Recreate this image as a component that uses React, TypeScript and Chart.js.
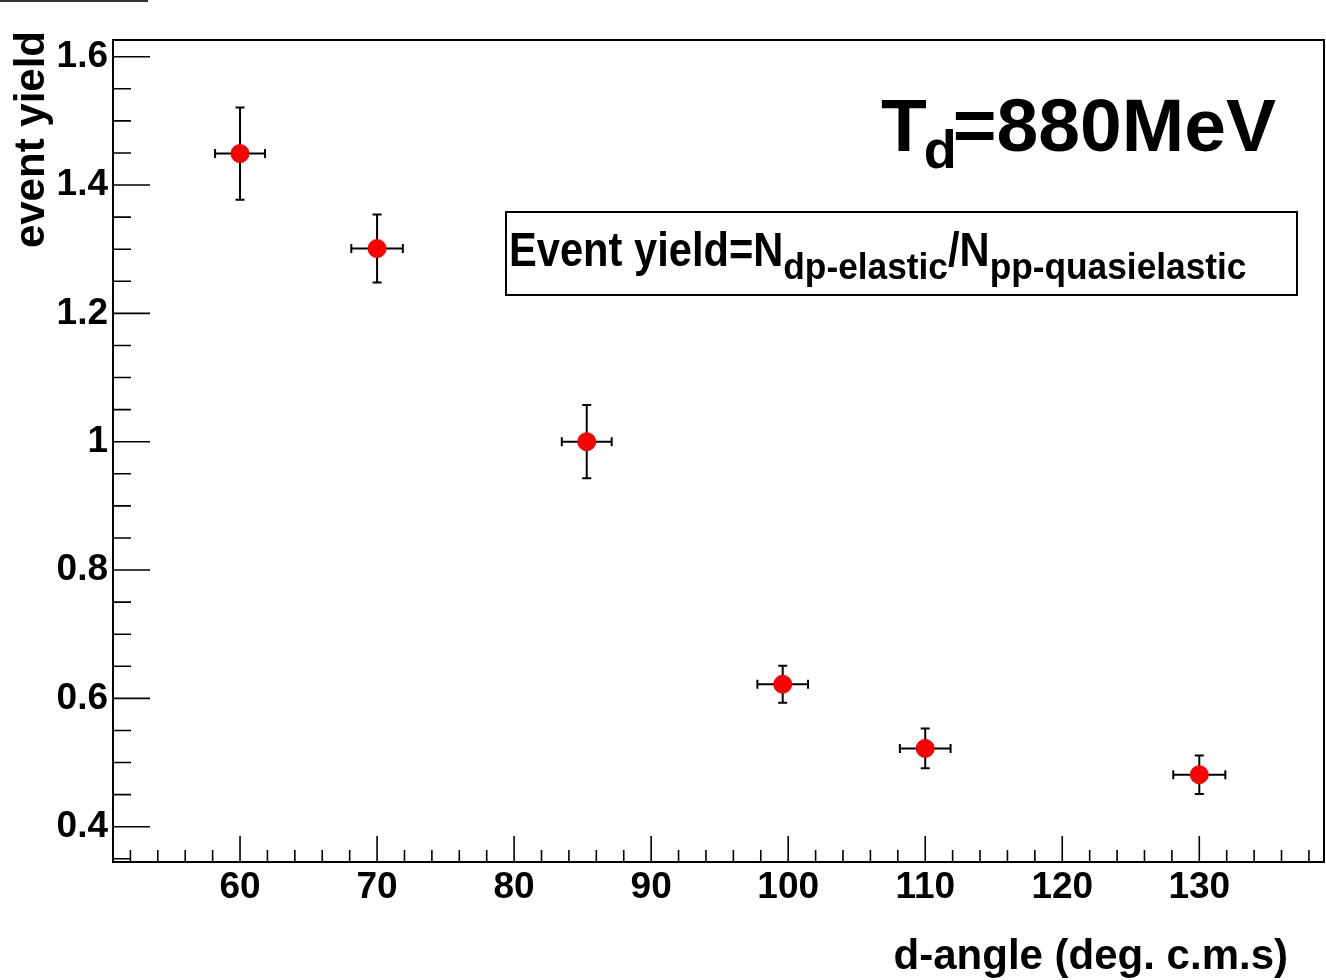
import React, { useEffect, useRef } from 'react';
import { Chart, registerables } from 'chart.js';

Chart.register(...registerables);

// ---- data ----
const angles = [60, 70, 85.3, 99.6, 110, 130];
const yields = [1.449, 1.301, 1.0, 0.622, 0.522, 0.481];
const yieldErrors = [0.072, 0.053, 0.057, 0.029, 0.031, 0.03];
const angleErrors = [1.82, 1.88, 1.82, 1.85, 1.85, 1.9];

const xTickValues = [52, 54, 56, 58, 60, 62, 64, 66, 68, 70, 72, 74, 76, 78, 80, 82, 84, 86, 88, 90, 92, 94, 96, 98, 100, 102, 104, 106, 108, 110, 112, 114, 116, 118, 120, 122, 124, 126, 128, 130, 132, 134, 136, 138];
const xMajorLabels = [60, 70, 80, 90, 100, 110, 120, 130];
const yTickValues = [0.35, 0.4, 0.45, 0.5, 0.55, 0.6, 0.65, 0.7, 0.75, 0.8, 0.85, 0.9, 0.95, 1.0, 1.05, 1.1, 1.15, 1.2, 1.25, 1.3, 1.35, 1.4, 1.45, 1.5, 1.55, 1.6];
const yMajorLabels = [0.4, 0.6, 0.8, 1, 1.2, 1.4, 1.6];

const X_MIN = 50.73;
const X_MAX = 139.1;
const Y_MIN = 0.345;
const Y_MAX = 1.626;

const FONT = "'Liberation Sans', Arial, Helvetica, sans-serif";

const findMajorY = (v: number) => yMajorLabels.find((m) => Math.abs(m - v) < 1e-6);

const rootPlugin = {
  id: 'rootStyle',
  beforeDatasetsDraw(chart: any) {
    const { ctx } = chart;
    const xs = chart.scales.x;
    const ys = chart.scales.y;
    ctx.save();
    ctx.strokeStyle = '#000';
    ctx.lineWidth = 2;
    const cap = 4.5;
    for (let i = 0; i < angles.length; i++) {
      const px = xs.getPixelForValue(angles[i]);
      const py = ys.getPixelForValue(yields[i]);
      const x0 = xs.getPixelForValue(angles[i] - angleErrors[i]);
      const x1 = xs.getPixelForValue(angles[i] + angleErrors[i]);
      const y0 = ys.getPixelForValue(yields[i] - yieldErrors[i]);
      const y1 = ys.getPixelForValue(yields[i] + yieldErrors[i]);
      ctx.beginPath();
      ctx.moveTo(x0, py); ctx.lineTo(x1, py);
      ctx.moveTo(px, y0); ctx.lineTo(px, y1);
      ctx.moveTo(x0, py - cap); ctx.lineTo(x0, py + cap);
      ctx.moveTo(x1, py - cap); ctx.lineTo(x1, py + cap);
      ctx.moveTo(px - cap, y0); ctx.lineTo(px + cap, y0);
      ctx.moveTo(px - cap, y1); ctx.lineTo(px + cap, y1);
      ctx.stroke();
    }
    ctx.restore();
  },
  afterDraw(chart: any) {
    const { ctx, chartArea } = chart;
    const xs = chart.scales.x;
    const ys = chart.scales.y;
    const { left, top, right, bottom } = chartArea;
    ctx.save();
    ctx.strokeStyle = '#000';
    ctx.fillStyle = '#000';

    // frame
    ctx.lineWidth = 2;
    ctx.strokeRect(left, top, right - left, bottom - top);

    // inward tick marks
    ctx.lineWidth = 1.6;
    ctx.beginPath();
    for (const t of xs.ticks) {
      const px = xs.getPixelForValue(t.value);
      const major = xMajorLabels.includes(t.value);
      ctx.moveTo(px, bottom);
      ctx.lineTo(px, bottom - (major ? 26 : 12));
    }
    for (const t of ys.ticks) {
      const py = ys.getPixelForValue(t.value);
      const major = findMajorY(t.value) !== undefined;
      ctx.moveTo(left, py);
      ctx.lineTo(left + (major ? 37 : 18), py);
    }
    ctx.stroke();

    // stray top-left line
    ctx.lineWidth = 2;
    ctx.strokeStyle = '#333';
    ctx.beginPath();
    ctx.moveTo(0, 1);
    ctx.lineTo(148, 1);
    ctx.stroke();
    ctx.strokeStyle = '#000';

    // y axis title
    ctx.save();
    ctx.font = `bold 42px ${FONT}`;
    ctx.translate(44, 31);
    ctx.rotate(-Math.PI / 2);
    ctx.textAlign = 'right';
    ctx.textBaseline = 'alphabetic';
    ctx.fillText('event yield', 0, 0);
    ctx.restore();

    // x axis title
    ctx.font = `bold 42px ${FONT}`;
    ctx.textAlign = 'right';
    ctx.textBaseline = 'alphabetic';
    ctx.fillText('d-angle (deg. c.m.s)', 1288, 969);

    // T_d = 880MeV
    ctx.textAlign = 'left';
    ctx.font = `bold 75px ${FONT}`;
    let x = 881;
    ctx.fillText('T', x, 151);
    x += ctx.measureText('T').width - 3;
    ctx.font = `bold 54px ${FONT}`;
    ctx.fillText('d', x, 168);
    x += ctx.measureText('d').width - 4;
    ctx.font = `bold 75px ${FONT}`;
    ctx.fillText('=880MeV', x, 151);

    // formula box
    ctx.lineWidth = 2;
    ctx.strokeRect(506, 212, 791, 83);
    const parts: [string, number, number, number][] = [
      ['Event yield=N', 49, 266, 0.85],
      ['dp-elastic', 36, 279, 0.98],
      ['/N', 49, 266, 0.85],
      ['pp-quasielastic', 36, 279, 0.98],
    ];
    let fx = 509;
    for (const [txt, size, base, sx] of parts) {
      ctx.font = `bold ${size}px ${FONT}`;
      ctx.save();
      ctx.translate(fx, base);
      ctx.scale(sx, 1);
      ctx.fillText(txt, 0, 0);
      ctx.restore();
      fx += ctx.measureText(txt).width * sx;
    }
    ctx.restore();
  },
};

export default function App() {
  const canvasRef = useRef<HTMLCanvasElement | null>(null);

  useEffect(() => {
    const canvas = canvasRef.current;
    if (!canvas) return;
    const points = angles.map((a, i) => ({ x: a, y: yields[i] }));
    const chart = new Chart(canvas, {
      type: 'scatter',
      data: {
        datasets: [
          {
            data: points,
            pointRadius: 9,
            pointHoverRadius: 9,
            pointBackgroundColor: '#ff0000',
            pointBorderColor: '#ee0000',
            pointBorderWidth: 1,
            showLine: false,
          },
        ],
      },
      options: {
        animation: false,
        responsive: false,
        devicePixelRatio: 1,
        events: [],
        layout: { autoPadding: false, padding: { left: 0, top: 40, right: 2, bottom: 0 } },
        plugins: {
          legend: { display: false },
          tooltip: { enabled: false },
          title: { display: false },
        },
        scales: {
          x: {
            type: 'linear',
            min: X_MIN,
            max: X_MAX,
            afterBuildTicks: (scale: any) => {
              scale.ticks = xTickValues.map((v) => ({ value: v }));
            },
            afterFit: (scale: any) => {
              scale.height = 118;
              scale.paddingLeft = 0;
              scale.paddingRight = 0;
            },
            grid: { display: false, drawTicks: false },
            border: { display: false },
            ticks: {
              autoSkip: false,
              maxRotation: 0,
              minRotation: 0,
              padding: 4,
              color: '#000',
              font: { family: FONT, size: 37, weight: 'bold' },
              callback: (value: any) => (xMajorLabels.includes(value) ? String(value) : ''),
            },
          },
          y: {
            type: 'linear',
            min: Y_MIN,
            max: Y_MAX,
            afterBuildTicks: (scale: any) => {
              scale.ticks = yTickValues.map((v) => ({ value: v }));
            },
            afterFit: (scale: any) => {
              scale.width = 113;
              scale.paddingTop = 0;
              scale.paddingBottom = 0;
            },
            grid: { display: false, drawTicks: false },
            border: { display: false },
            ticks: {
              autoSkip: false,
              padding: 5,
              color: '#000',
              font: { family: FONT, size: 37, weight: 'bold' },
              callback: (value: any) => {
                const m = findMajorY(value);
                return m !== undefined ? String(m) : '';
              },
            },
          },
        },
      },
      plugins: [rootPlugin],
    } as any);
    return () => chart.destroy();
  }, []);

  return (
    <div style={{ position: 'fixed', left: 0, top: 0, width: 1326, height: 980, background: '#fff' }}>
      <canvas ref={canvasRef} width={1326} height={980} style={{ display: 'block' }} />
    </div>
  );
}
